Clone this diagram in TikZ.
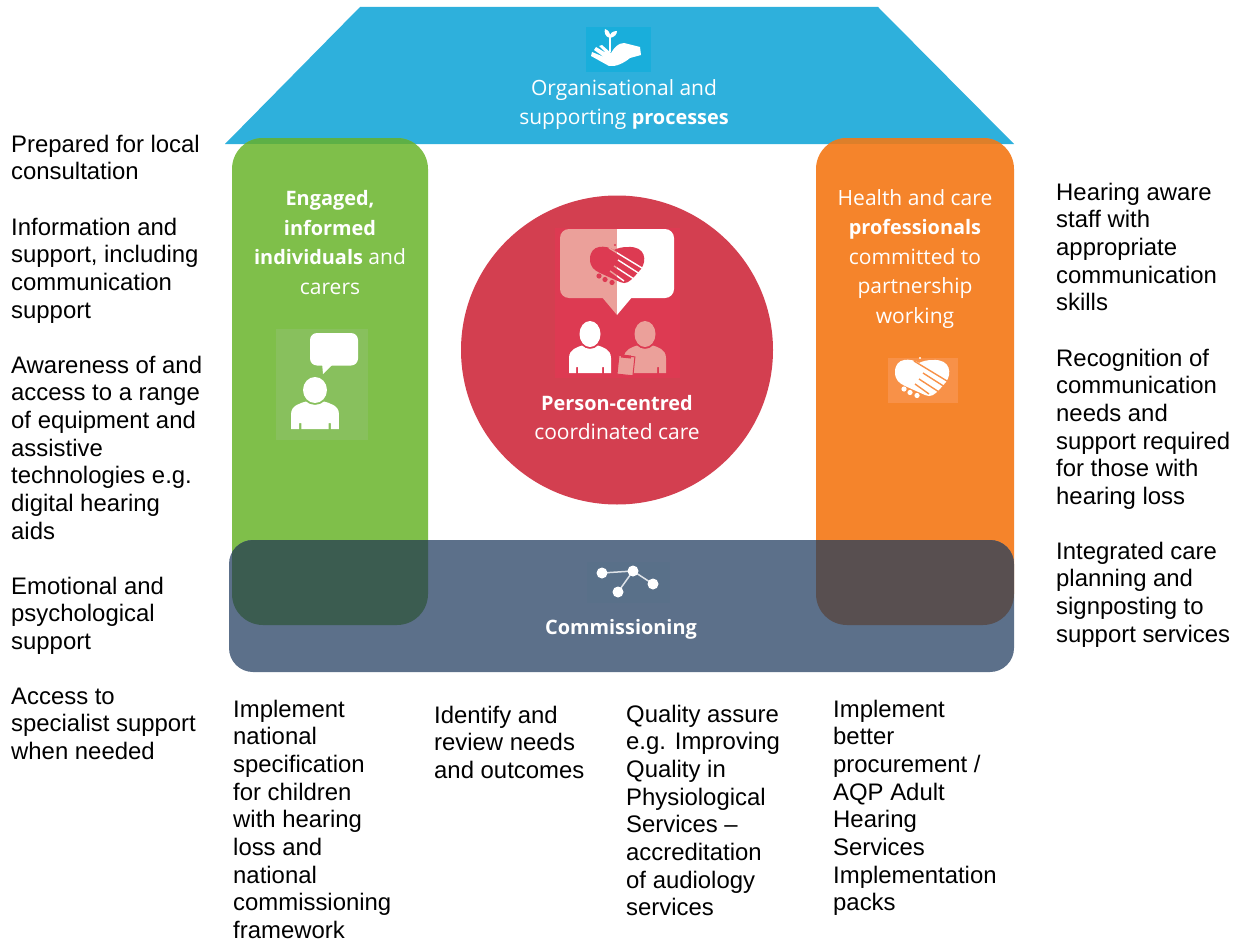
\documentclass[tikz,border=0pt]{standalone}
\usepackage{fontspec}
\setmainfont{Liberation Sans}
\newfontfamily\infofont{Open Sans}
\definecolor{roofblue}{HTML}{2EB0DC}
\definecolor{roofbg}{HTML}{19AEDB}
\definecolor{pilgreen}{HTML}{7FBF4A}
\definecolor{greenband}{HTML}{5DB046}
\definecolor{greenbg}{HTML}{88C05D}
\definecolor{pilorange}{HTML}{F5842B}
\definecolor{orangeband}{HTML}{DD7F2A}
\definecolor{orangebg}{HTML}{F89148}
\definecolor{circred}{HTML}{D33F50}
\definecolor{redbg}{HTML}{DD3A52}
\definecolor{redpink}{HTML}{EBA09A}
\definecolor{combar}{HTML}{5C708A}
\definecolor{combg}{HTML}{597089}
\definecolor{overgreen}{HTML}{3B5C50}
\definecolor{overorange}{HTML}{584F50}
\newcommand\infob[1]{{\bfseries\fontsize{19.9}{29.5}\selectfont #1}}
\tikzset{
  x=1pt,y=-1pt,
  body/.style={anchor=north west,inner sep=0pt,align=left,text=black,font=\fontsize{23.9}{27.7}\selectfont},
  info/.style={anchor=center,inner sep=0pt,align=center,text=white,font=\infofont\fontsize{21}{29.5}\selectfont},
}
% handshake heart: #1 heart colour, #2 stripe colour
\newcommand\handshake[2]{%
  \fill[#1] (24,4) .. controls (16,-1) and (0,-2) .. (0,13) .. controls (0,21) and (4,24) .. (10,27)
     -- (30,36) .. controls (36,39) and (40,35) .. (44,31) -- (51,23) .. controls (57,15) and (56,0) .. (38,1) .. controls (32,1) and (28,2) .. (24,4) -- cycle;
  \draw[#2,line width=1.4pt] (19,2) -- (52,22) (28,14) -- (50,28) (24,20) -- (44,33) (20,25) -- (34,35);
  \fill[#1] (9,30) circle (2.6) (15,33.5) circle (2.6) (22,36.5) circle (2.6);
  \fill[#1] (25,-1) circle (1.2);
}
% person: origin head centre; #1 colour
\newcommand\person[1]{%
  \fill[#1] (0,0) ellipse (10.5 and 13);
  \fill[#1] (-21,39) -- (-21,24) .. controls (-21,15) and (-12,13) .. (-8,11.5) .. controls (-4,16) and (4,16) .. (8,11.5)
     .. controls (12,13) and (21,15) .. (21,24) -- (21,39) -- (14,39) -- (14,33) -- (12,33) -- (12,39) -- (-12,39) -- (-12,33) -- (-14,33) -- (-14,39) -- cycle;
}
\begin{document}
\begin{tikzpicture}
\useasboundingbox (0,0) rectangle (1243,942);
\fill[white] (0,0) rectangle (1243,942);

% roof
\fill[roofblue] (360,7) -- (878,7) -- (1014,144) -- (225,144) -- cycle;
% pillars
\fill[pilgreen,rounded corners=31pt] (232,138) rectangle (428,625);
\fill[pilorange,rounded corners=31pt] (816,138) rectangle (1014,625);
\begin{scope}
  \clip (225,100) rectangle (1014,143.5);
  \fill[greenband,rounded corners=31pt] (232,138) rectangle (428,625);
  \fill[orangeband,rounded corners=31pt] (816,138) rectangle (1014,625);
\end{scope}
% commissioning bar and overlaps
\fill[combar,rounded corners=24pt] (229,540) rectangle (1014,672);
\begin{scope}
  \clip[rounded corners=24pt] (229,540) rectangle (1014,672);
  \fill[overgreen,rounded corners=31pt] (232,138) rectangle (428,625);
  \fill[overorange,rounded corners=31pt] (816,138) rectangle (1014,625);
\end{scope}
% circle
\fill[circred] (617,350) ellipse (156 and 154.5);

% roof icon
\fill[roofbg] (586,27) rectangle (651,72);
\fill[white] (640,47) -- (641,55) -- (630,58) .. controls (624,63) and (616,67) .. (609,66) -- (591,56) -- (592,52) -- (604,57) -- (594,50) -- (596,47) -- (606,53) -- (599,46) -- (602,45) -- (611,53) .. controls (614,48) and (618,43) .. (624,43) -- cycle;
\draw[white,line width=2.2pt] (610,52) -- (610,36);
\fill[white] (610,38) .. controls (605,37) and (604,32) .. (605,29) .. controls (608,30) and (611,33) .. (610,38) -- cycle;
\fill[white] (610,38) .. controls (615,37) and (617,34) .. (617,31) .. controls (613,31) and (609,33) .. (610,38) -- cycle;

% red icon
\fill[redbg] (555,228) rectangle (680,378);
\begin{scope}
  \clip (550,225) rectangle (617,320);
  \fill[redpink,rounded corners=9pt] (560,229) rectangle (674,298);
  \fill[redpink] (601,296) -- (633,296) -- (617,315) -- cycle;
\end{scope}
\begin{scope}
  \clip (617,225) rectangle (680,320);
  \fill[white,rounded corners=9pt] (560,229) rectangle (674,298);
  \fill[white] (601,296) -- (633,296) -- (617,315) -- cycle;
\end{scope}
\begin{scope}[shift={(590,246)}]
  \begin{scope}\clip (0,-5) rectangle (27,45); \handshake{redbg}{redpink}\end{scope}
  \begin{scope}\clip (27,-5) rectangle (60,45); \handshake{redbg}{white}\end{scope}
\end{scope}
\begin{scope}[shift={(590,334)}]\person{white}\end{scope}
\begin{scope}[shift={(645,334)}]\person{redpink}\end{scope}
\fill[redpink,draw=redbg,line width=1pt,rotate around={-6:(626,365)}] (618,356) rectangle (634,375);
\fill[redbg,rotate around={-6:(626,356)}] (621,355) rectangle (631,358);

% green icon
\fill[greenbg] (276,329) rectangle (368,440);
\fill[white,rounded corners=7pt] (310,333) rectangle (358,365.5);
\fill[white] (322,363) -- (334,363) -- (323,374) -- cycle;
\begin{scope}[shift={(315,390)}]
  \begin{scope}[xscale=1.14]\person{white}\end{scope}
\end{scope}

% orange icon
\fill[orangebg] (888,358) rectangle (958,403);
\begin{scope}[shift={(895,359)}]\handshake{white}{orangebg}\end{scope}

% commissioning icon
\fill[combg] (587,562) rectangle (670,603);
\coordinate (na) at (602,573);
\coordinate (nb) at (633,571);
\coordinate (nc) at (653,584);
\coordinate (nd) at (618,592);
\draw[white!80!combar,line width=1.5pt] (na) -- (nb) -- (nc) (nb) -- (nd);
\fill[white] (na) circle (5.5) (nb) circle (5.5) (nc) circle (5.5) (nd) circle (5.5);

% infographic labels
\node[info] (roofl) at (624,104.5) {Organisational and\\supporting \infob{processes}};
\node[info] (greenl) at (330,242.5) {\infob{Engaged,}\\\infob{informed}\\\infob{individuals} and\\carers};
\node[info] (orangel) at (915,259) {Health and care\\\infob{professionals}\\committed to\\partnership\\working};
\node[info] (redl) at (617,417.5) {\infob{Person-centred}\\coordinated care};
\node[info] (coml) at (621,629) {\infob{Commissioning}};

% left text
\node[body] (l1) at (11,134.5) {Prepared for local\\consultation};
\node[body] (l2) at (11,217.5) {Information and\\support, including\\communication\\support};
\node[body] (l3) at (11,355.5) {Awareness of and\\access to a range\\of equipment and\\assistive\\technologies e.g.\\digital hearing\\aids};
\node[body] (l4) at (11,576.5) {Emotional and\\psychological\\support};
\node[body] (l5) at (11,687.5) {Access to\\specialist support\\when needed};
% right text
\node[body] (r1) at (1056,182.5) {Hearing aware\\staff with\\appropriate\\communication\\skills};
\node[body] (r2) at (1056,348.5) {Recognition of\\communication\\needs and\\support required\\for those with\\hearing loss};
\node[body] (r3) at (1056,541.5) {Integrated care\\planning and\\signposting to\\support services};
% bottom text
\node[body] (b1) at (233,699.5) {Implement\\national\\specification\\for children\\with hearing\\loss and\\national\\commissioning\\framework};
\node[body] (b2) at (434,705.5) {Identify and\\review needs\\and outcomes};
\node[body] (b3) at (626,704.5) {Quality assure\\e.g. Improving\\Quality in\\Physiological\\Services –\\accreditation\\of audiology\\services};
\node[body] (b4) at (833,699.5) {Implement\\better\\procurement /\\AQP Adult\\Hearing\\Services\\Implementation\\packs};
\end{tikzpicture}
\end{document}
